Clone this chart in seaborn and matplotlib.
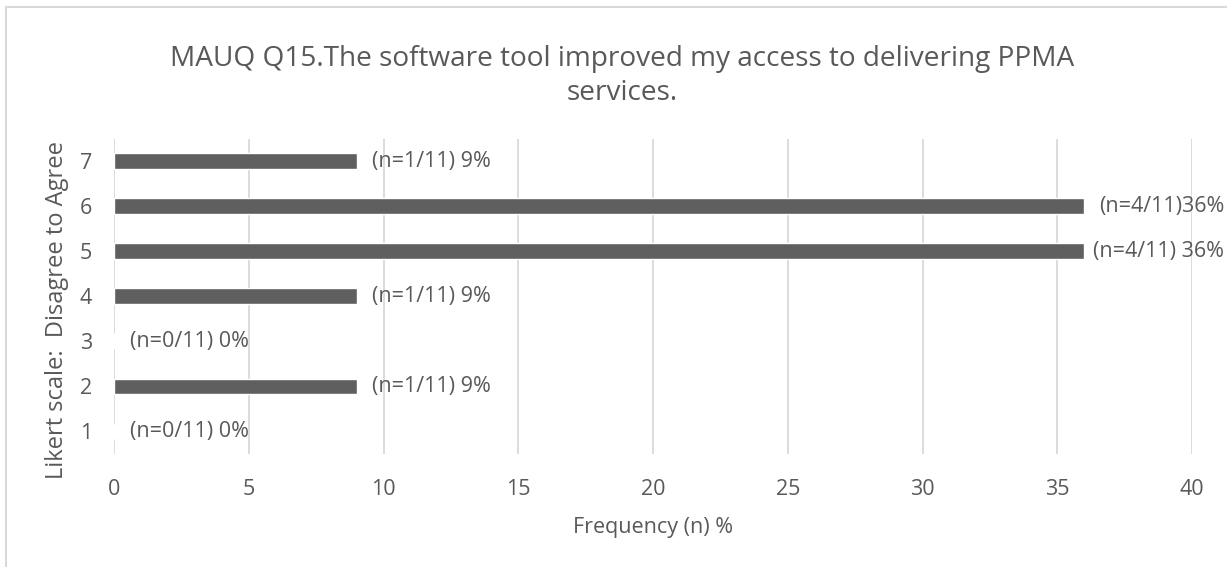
import matplotlib
matplotlib.use("Agg")
import matplotlib.pyplot as plt
import matplotlib.patches as mpatches
import seaborn as sns
import pandas as pd

# Likert responses, listed top (7) to bottom (1)
likert_levels = ["7", "6", "5", "4", "3", "2", "1"]
frequency_pct = [9, 36, 36, 9, 0, 9, 0]
bar_labels = [
    "(n=1/11) 9%",
    "(n=4/11)36%",
    "(n=4/11) 36%",
    "(n=1/11) 9%",
    "(n=0/11) 0%",
    "(n=1/11) 9%",
    "(n=0/11) 0%",
]
x_ticks = [0, 5, 10, 15, 20, 25, 30, 35, 40]

title_text = "MAUQ Q15.The software tool improved my access to delivering PPMA\nservices."
x_label = "Frequency (n) %"
y_label = "Likert scale:  Disagree to Agree"

sns.set_theme(style="white")
plt.rcParams["font.family"] = ["Open Sans", "DejaVu Sans"]

TEXT = "#595959"
BAR = "#5f5f5f"
GRID = "#d9d9d9"
FS = 15.5

df = pd.DataFrame({"level": likert_levels, "pct": frequency_pct, "label": bar_labels})

fig = plt.figure(figsize=(12.27, 5.67), dpi=100)
ax = fig.add_axes([0.0932, 0.1993, 0.9715 - 0.0932, 0.7549 - 0.1993])

sns.barplot(data=df, x="pct", y="level", order=likert_levels, orient="h",
            color=BAR, saturation=1, width=0.355, ax=ax, zorder=3)

ax.set_xlim(0, 40)
ax.set_xticks(x_ticks)
ax.set_xticklabels([str(t) for t in x_ticks])
ax.grid(axis="x", color=GRID, linewidth=1.3, zorder=0)
ax.grid(axis="y", visible=False)
for s in ax.spines.values():
    s.set_visible(False)
ax.tick_params(axis="both", length=0, labelsize=FS, colors=TEXT)
ax.tick_params(axis="x", pad=18)
ax.tick_params(axis="y", pad=16)

# value labels just past the end of each bar, kept inside the figure
fig.canvas.draw()
renderer = fig.canvas.get_renderer()
fig_w = fig.bbox.width
for i, (v, lab) in enumerate(zip(frequency_pct, bar_labels)):
    t = ax.annotate(lab, xy=(v, i), xytext=(11, 0), textcoords="offset points",
                    ha="left", va="center", fontsize=FS, color=TEXT,
                    annotation_clip=False)
    right = t.get_window_extent(renderer).x1
    if right > fig_w - 3:
        shift = (right - (fig_w - 3)) * 72 / fig.dpi
        t.set_position((11 - shift, 0))

ax.set_xlabel(x_label, fontsize=FS, color=TEXT, labelpad=12)
ax.set_ylabel(y_label, fontsize=17, color=TEXT, va="center")
ax.yaxis.set_label_coords(-0.0532, 0.457)

fig.text(0.507, 1 - 76 / 567, title_text, ha="center", va="center",
         fontsize=20.2, color=TEXT, linespacing=1.25)

# light outline around the chart area
fig.patches.append(mpatches.Rectangle((6 / 1227, -0.05), 1.2, 1 - 7 / 567 + 0.05,
                                      transform=fig.transFigure, fill=False,
                                      edgecolor="#d9d9d9", linewidth=1.5))

fig.savefig("out.png", dpi=100)
